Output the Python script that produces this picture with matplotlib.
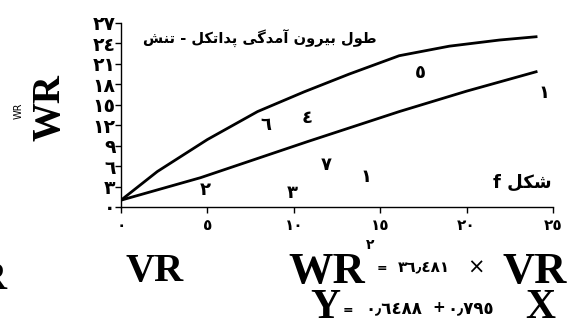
import matplotlib
matplotlib.use("Agg")
import matplotlib.pyplot as plt

# curves (VR on x, WR on y)
upper_x = [0, 2.1, 5.0, 7.9, 10.6, 13.2, 16.1, 19.0, 21.9, 24.1]
upper_y = [1.0, 5.2, 9.9, 14.0, 16.9, 19.5, 22.2, 23.6, 24.5, 25.0]
lower_x = [0, 4.6, 10.8, 16.1, 20.0, 24.1]
lower_y = [1.0, 4.3, 9.6, 14.0, 17.0, 19.9]

xticks = [0, 5, 10, 15, 20, 25]
xtick_labels = ["٠", "٥", "١٠", "١٥", "٢٠", "٢٥"]
yticks = [0, 3, 6, 9, 12, 15, 18, 21, 24, 27]
ytick_labels = ["٠", "٣", "٦", "٩", "١٢", "١٥", "١٨", "٢١", "٢٤", "٢٧"]

# numbers scattered in the plot area
point_labels = ["٥", "١", "٦", "٤", "٧", "١", "٢", "٣"]
point_x = [17.3, 24.5, 8.4, 10.8, 11.9, 14.2, 4.9, 9.9]
point_y = [19.7, 16.8, 12.1, 13.1, 6.2, 4.4, 2.5, 2.0]

# matplotlib draws glyphs left to right without joining, so the
# persian words are joined presentation forms in visual order
title_words = ["\uFEB6\uFEE8\uFE97",                    # تنش
               "-",
               "\uFEDE\uFEDC\uFE97\uFE8D\uFEAA\uFB58",  # پداتکل
               "\uFEF0\uFB94\uFEAA\uFEE3\uFE81",        # آمدگی
               "\uFEE5\uFEED\uFEAE\uFEF4\uFE91",        # بیرون
               "\uFEDD\uFEEE\uFEC3"]                    # طول
fig_word = "\uFEDE\uFEDC\uFEB7"                         # شکل

W, H = 572, 327
ar = ["DejaVu Sans"]
serif = ["Liberation Serif", "DejaVu Serif"]

fig = plt.figure(figsize=(W / 100, H / 100), dpi=100)
ax = fig.add_axes([121 / W, 1 - 207 / H, (553 - 121) / W, (207 - 23) / H])

ax.plot(upper_x, upper_y, color="black", lw=2.0, solid_capstyle="butt")
ax.plot(lower_x, lower_y, color="black", lw=2.0, solid_capstyle="butt")

ax.set_xlim(0, 25)
ax.set_ylim(0, 27)
ax.set_xticks(xticks)
ax.set_xticklabels(xtick_labels, family=ar, fontsize=11, fontweight="bold")
ax.set_yticks(yticks)
ax.set_yticklabels(ytick_labels, family=ar, fontsize=13.5, fontweight="bold")
ax.tick_params(axis="x", direction="out", length=4, width=1, pad=4)
ax.tick_params(axis="y", direction="out", length=4, width=1, pad=0)
for side in ["top", "right"]:
    ax.spines[side].set_visible(False)
for side in ["left", "bottom"]:
    ax.spines[side].set_linewidth(1.0)

for lab, px, py in zip(point_labels, point_x, point_y):
    ax.text(px, py, lab, family=ar, fontsize=13, fontweight="bold",
            ha="center", va="center")

ax.text(1.27, 24.7, " ".join(title_words), family=ar, fontsize=10.5,
        fontweight="bold", ha="left", va="center")
ax.text(24.9, 3.5, "f " + fig_word, family=ar, fontsize=13,
        fontweight="bold", ha="right", va="center")


def ftext(x, y, s, **kw):
    fig.text(x / W, 1 - y / H, s, **kw)


# y axis label
ftext(50, 108, "WR", family=serif, fontsize=28, fontweight="bold",
      rotation=90, ha="center", va="center")
ftext(19, 111, "WR", family=ar, fontsize=7, rotation=90,
      ha="center", va="center")

# x axis label and cut-off letter at left
ftext(126, 281, "VR", family=serif, fontsize=29, fontweight="bold",
      ha="left", va="baseline")
ftext(6, 289, "R", family=serif, fontsize=28, fontweight="bold",
      ha="right", va="baseline")

# equations
ftext(288, 283, "WR", family=serif, fontsize=32, fontweight="bold",
      ha="left", va="baseline")
ftext(370, 245, "٢", family=ar, fontsize=10, fontweight="bold",
      ha="center", va="center")
ftext(382, 268, "=", family=ar, fontsize=9, fontweight="bold",
      ha="center", va="center")
ftext(424, 267, "٣٦٫٤٨١", family=ar, fontsize=11, fontweight="bold",
      ha="center", va="center")
ftext(476, 268, "×", family=ar, fontsize=15, ha="center", va="center")
ftext(567, 283, "VR", family=serif, fontsize=32, fontweight="bold",
      ha="right", va="baseline")

ftext(310, 318, "Y", family=serif, fontsize=30, fontweight="bold",
      ha="left", va="baseline")
ftext(348, 310, "=", family=ar, fontsize=9, fontweight="bold",
      ha="center", va="center")
ftext(394, 308, "٠٫٦٤٨٨", family=ar, fontsize=12, fontweight="bold",
      ha="center", va="center")
ftext(439, 308, "+", family=ar, fontsize=11, fontweight="bold",
      ha="center", va="center")
ftext(471, 308, "٠٫٧٩٥", family=ar, fontsize=12, fontweight="bold",
      ha="center", va="center")
ftext(555, 318, "X", family=serif, fontsize=30, fontweight="bold",
      ha="right", va="baseline")

fig.savefig("out.png", dpi=100)
